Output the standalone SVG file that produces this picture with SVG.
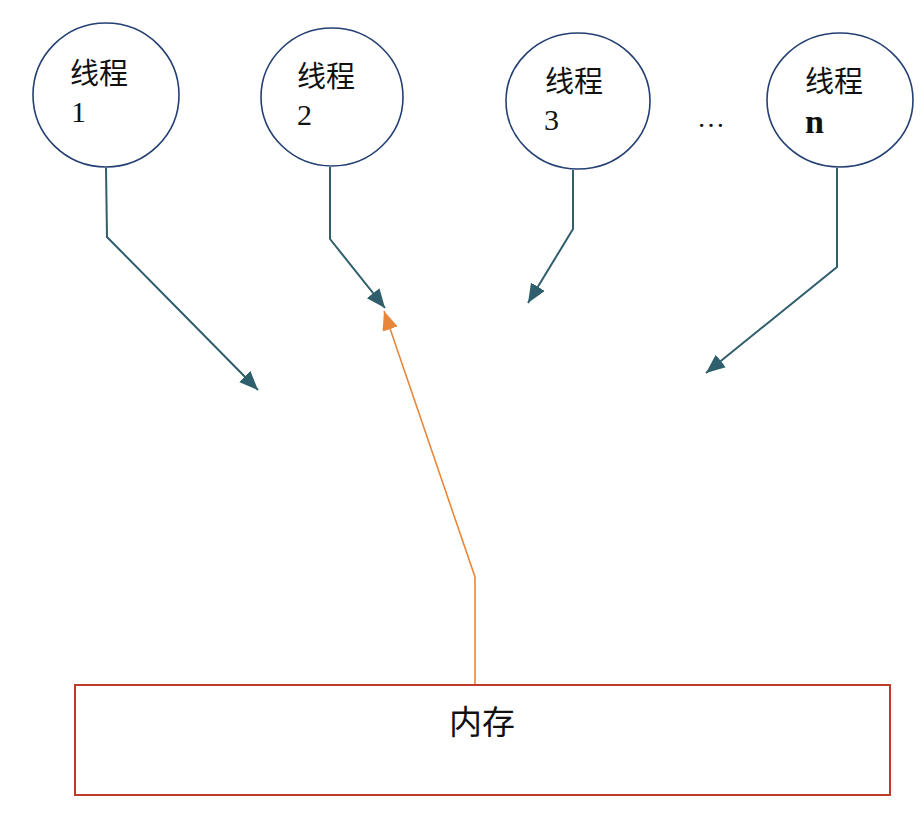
<svg xmlns="http://www.w3.org/2000/svg" width="924" height="818" viewBox="0 0 924 818">
<style>
.thread{fill:#fff;stroke:#243f73;stroke-width:1.6}
.cjk{font-family:"Noto Sans CJK SC","Noto Sans",sans-serif;fill:#111}
.num{font-family:"Liberation Serif",serif;fill:#111}
.teal{fill:none;stroke:#2f5e6c;stroke-width:2}
.orange{fill:none;stroke:#e8873a;stroke-width:1.6}
.mem{fill:#fff;stroke:#c0392b;stroke-width:2}
</style>
<defs>
<marker id="ah-teal" markerUnits="userSpaceOnUse" markerWidth="22" markerHeight="18" refX="19" refY="8" orient="auto">
<path d="M0,0 L19,8 L0,16 z" fill="#2f5e6c"/>
</marker>
<marker id="ah-orange" markerUnits="userSpaceOnUse" markerWidth="22" markerHeight="18" refX="19" refY="8" orient="auto">
<path d="M0,0 L19,8 L0,16 z" fill="#e8873a"/>
</marker>
</defs>
<rect width="924" height="818" fill="#fff"/>
<g id="connectors">
<polyline class="teal" points="106,168 107,237 258,390" marker-end="url(#ah-teal)"/>
<polyline class="teal" points="330,167 330,239 385,308" marker-end="url(#ah-teal)"/>
<polyline class="teal" points="573,170 573,229 528,303" marker-end="url(#ah-teal)"/>
<polyline class="teal" points="837,168 837,267 706,373" marker-end="url(#ah-teal)"/>
<polyline class="orange" points="475,685 475,577 384,311" marker-end="url(#ah-orange)"/>
</g>
<g id="thread1">
<ellipse class="thread" cx="106" cy="95" rx="73" ry="72"/>
<text class="cjk" x="70" y="84" font-size="29">线程</text>
<text class="num" x="71" y="122" font-size="30">1</text>
</g>
<g id="thread2">
<ellipse class="thread" cx="332" cy="97" rx="71" ry="69"/>
<text class="cjk" x="297" y="87" font-size="29">线程</text>
<text class="num" x="297" y="125" font-size="30">2</text>
</g>
<g id="thread3">
<ellipse class="thread" cx="578" cy="101" rx="72" ry="68"/>
<text class="cjk" x="545" y="92" font-size="29">线程</text>
<text class="num" x="544" y="130" font-size="30">3</text>
</g>
<g id="ellipsis">
<text class="num" x="697" y="127" font-size="28">…</text>
</g>
<g id="threadn">
<ellipse class="thread" cx="840" cy="100" rx="73" ry="67"/>
<text class="cjk" x="805" y="92" font-size="29">线程</text>
<text class="num" x="805" y="133" font-size="34" font-weight="bold">n</text>
</g>
<g id="memory">
<rect class="mem" x="75" y="685" width="815" height="110"/>
<text class="cjk" x="482" y="734" font-size="33" text-anchor="middle">内存</text>
</g>
</svg>
